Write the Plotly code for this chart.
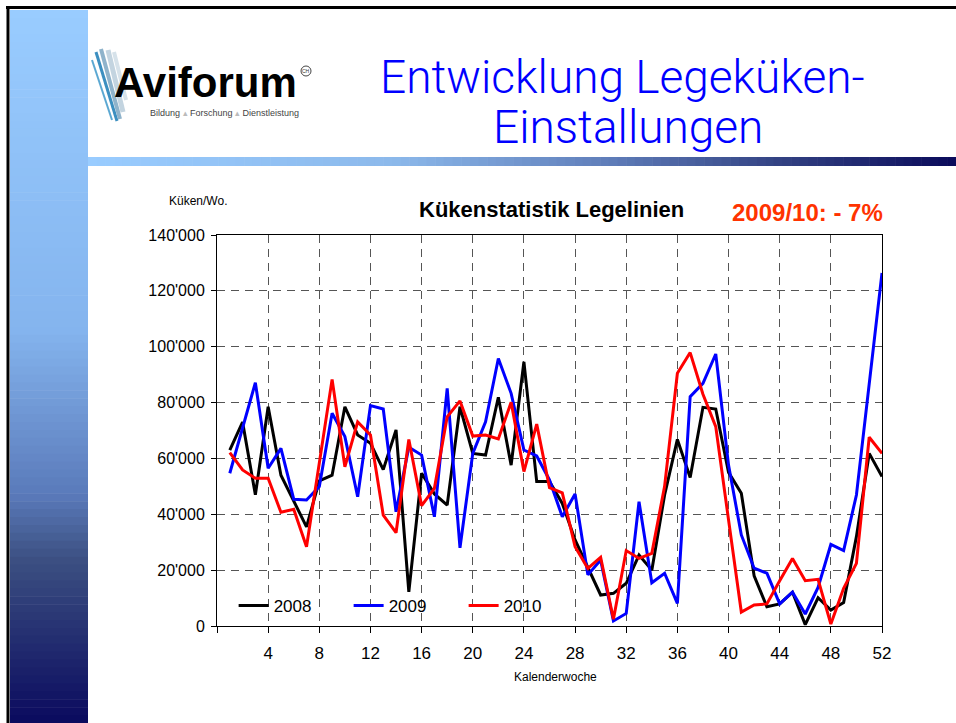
import plotly.graph_objects as go

# ---------------- data ----------------
weeks = list(range(1, 53))
y2008 = [63000, 73000, 47000, 78500, 54000, 45000, 35500, 52000, 54000, 78500,
         68400, 65400, 56000, 70200, 12200, 54700, 47300, 43300, 78500, 61800,
         61200, 81900, 57600, 94600, 51700, 51700, 43900, 30800, 21200, 11100,
         11700, 15300, 25400, 20000, 46900, 66800, 53200, 78300, 77700, 55000,
         47500, 18000, 6900, 7900, 12100, 500, 10100, 5700, 8400, 32000,
         61800, 53500]
y2009 = [54700, 71400, 87100, 56500, 63600, 45400, 45100, 49900, 76200, 67800,
         46300, 78900, 77700, 40900, 64000, 61200, 39100, 85100, 28000, 61800,
         73100, 95800, 83300, 63000, 60900, 52300, 39100, 47300, 18300, 23600,
         1800, 4500, 44500, 15500, 18900, 8100, 82100, 86900, 97400, 57600,
         32600, 20700, 18900, 7900, 12100, 4300, 13800, 29200, 27000, 46900,
         87000, 126400]
y2010 = [62100, 55900, 52900, 52900, 40700, 41800, 28400, 59000, 88300, 57000,
         73100, 68400, 39700, 33400, 66800, 43100, 49300, 74900, 80600, 68000,
         68400, 67000, 80100, 55300, 72300, 49500, 47700, 28400, 20600, 24600,
         2400, 27000, 24200, 26000, 50000, 90500, 97900, 83000, 71400, 38000,
         5000, 7500, 7900, 16200, 24200, 16200, 16700, 700, 13500, 22400,
         67600, 61800]
series_names = ["2008", "2009", "2010"]
series_colors = ["#000000", "#0000FF", "#FF0000"]

x_tickvals = list(range(0, 53, 4))
x_ticktext = [""] + [str(v) for v in range(4, 53, 4)]
y_tickvals = list(range(0, 140001, 20000))
y_ticktext = ["0", "20'000", "40'000", "60'000", "80'000", "100'000", "120'000", "140'000"]

# ---------------- layout geometry ----------------
W, H = 956, 723
ML, MR, MT, MB = 217, 74, 235, 97
PW, PH = W - ML - MR, H - MT - MB


def PX(px):
    return (px - ML) / PW


def PY(py):
    return (H - MB - py) / PH


def lerp_color(stops, t):
    for i in range(len(stops) - 1):
        t0, c0 = stops[i]
        t1, c1 = stops[i + 1]
        if t0 <= t <= t1:
            f = (t - t0) / (t1 - t0) if t1 > t0 else 0
            c = [int(round(c0[k] + (c1[k] - c0[k]) * f)) for k in range(3)]
            return "rgb(%d,%d,%d)" % tuple(c)
    c = stops[-1][1]
    return "rgb(%d,%d,%d)" % tuple(c)


fig = go.Figure()
for name, ys, col in zip(series_names, [y2008, y2009, y2010], series_colors):
    fig.add_trace(go.Scatter(x=weeks, y=ys, mode="lines", name=name,
                             line=dict(color=col, width=3)))

shapes = []
# left vertical gradient bar
vstops = [(0.0, (153, 204, 255)), (0.45, (132, 180, 238)), (0.68, (90, 122, 186)),
          (0.77, (60, 80, 130)), (1.0, (10, 10, 94))]
y0, y1 = 10, 723
n = 90
for i in range(n):
    a = y0 + (y1 - y0) * i / n
    b = y0 + (y1 - y0) * (i + 1) / n
    shapes.append(dict(type="rect", xref="paper", yref="paper", layer="below",
                       x0=PX(10), x1=PX(88), y0=PY(a), y1=PY(b + 0.6),
                       fillcolor=lerp_color(vstops, (i + 0.5) / n), line=dict(width=0)))
# horizontal gradient bar
hstops = [(0.0, (153, 204, 255)), (0.35, (140, 185, 235)), (0.6, (95, 125, 185)),
          (0.8, (50, 65, 130)), (1.0, (10, 10, 90))]
x0, x1 = 88, 956
n = 100
for i in range(n):
    a = x0 + (x1 - x0) * i / n
    b = x0 + (x1 - x0) * (i + 1) / n
    shapes.append(dict(type="rect", xref="paper", yref="paper", layer="below",
                       x0=PX(a), x1=PX(b + 0.6), y0=PY(157), y1=PY(166),
                       fillcolor=lerp_color(hstops, (i + 0.5) / n), line=dict(width=0)))
# slide border
shapes.append(dict(type="line", xref="paper", yref="paper", x0=PX(6), x1=PX(956),
                   y0=PY(7.5), y1=PY(7.5), line=dict(color="#000000", width=3)))
shapes.append(dict(type="line", xref="paper", yref="paper", x0=PX(8), x1=PX(8),
                   y0=PY(6), y1=PY(723), line=dict(color="#000000", width=3)))
# logo feather strokes
for (ax, ay, bx, by, c, w) in [(96, 52, 117, 121, "#3C8FC0", 3), (101, 49, 120, 119, "#8FB3CB", 4),
                               (108, 50, 123, 112, "#C3D4E0", 5), (92, 60, 112, 120, "#5BA8D2", 2),
                               (114, 52, 126, 100, "#D6E2EA", 4)]:
    shapes.append(dict(type="line", xref="paper", yref="paper", x0=PX(ax), x1=PX(bx),
                       y0=PY(ay), y1=PY(by), line=dict(color=c, width=w)))
# circled CH mark
shapes.append(dict(type="circle", xref="paper", yref="paper", x0=PX(301), x1=PX(311),
                   y0=PY(66), y1=PY(76), line=dict(color="#444444", width=1)))

ann = []
ann.append(dict(text="Entwicklung Legeküken-", xref="paper", yref="paper",
                x=PX(622), y=PY(77), xanchor="center", yanchor="middle", showarrow=False,
                font=dict(family="Roboto", size=46, color="#0000FF", weight=300)))
ann.append(dict(text="Einstallungen", xref="paper", yref="paper",
                x=PX(628), y=PY(127), xanchor="center", yanchor="middle", showarrow=False,
                font=dict(family="Roboto", size=46, color="#0000FF", weight=300)))
ann.append(dict(text="<b>Aviforum</b>", xref="paper", yref="paper", x=PX(112), y=PY(82),
                xanchor="left", yanchor="middle", showarrow=False,
                font=dict(family="Liberation Sans", size=42, color="#000000")))
ann.append(dict(text="CH", xref="paper", yref="paper", x=PX(306), y=PY(71),
                xanchor="center", yanchor="middle", showarrow=False,
                font=dict(family="Liberation Sans", size=5, color="#333333")))
ann.append(dict(text="Bildung <span style='color:#bbbbbb'>▴</span> Forschung <span style='color:#bbbbbb'>▴</span> Dienstleistung",
                xref="paper", yref="paper", x=PX(224), y=PY(113),
                xanchor="center", yanchor="middle", showarrow=False,
                font=dict(family="Liberation Sans", size=9, color="#444444")))
ann.append(dict(text="<b>Kükenstatistik Legelinien</b>", xref="paper", yref="paper",
                x=PX(551), y=PY(209), xanchor="center", yanchor="middle", showarrow=False,
                font=dict(family="Liberation Sans", size=22, color="#000000")))
ann.append(dict(text="<b>2009/10: - 7%</b>", xref="paper", yref="paper",
                x=PX(807), y=PY(213), xanchor="center", yanchor="middle", showarrow=False,
                font=dict(family="Liberation Sans", size=24, color="#FF3300")))
ann.append(dict(text="Küken/Wo.", xref="paper", yref="paper",
                x=PX(198), y=PY(201), xanchor="center", yanchor="middle", showarrow=False,
                font=dict(family="Liberation Sans", size=12, color="#000000")))
ann.append(dict(text="Kalenderwoche", xref="paper", yref="paper",
                x=PX(555), y=PY(677), xanchor="center", yanchor="middle", showarrow=False,
                font=dict(family="Liberation Sans", size=12, color="#000000")))

fig.update_layout(
    width=W, height=H, autosize=False,
    margin=dict(l=ML, r=MR, t=MT, b=MB, pad=0),
    paper_bgcolor="white", plot_bgcolor="white",
    font=dict(family="Liberation Sans", color="#000000"),
    shapes=shapes, annotations=ann,
    legend=dict(orientation="h", x=0.025, y=PY(606), xanchor="left", yanchor="middle",
                bgcolor="rgba(0,0,0,0)", font=dict(size=17), entrywidth=70,
                entrywidthmode="pixels", tracegroupgap=0),
    showlegend=True,
)
fig.update_xaxes(range=[0, 52], tickvals=x_tickvals, ticktext=x_ticktext,
                 showline=True, linecolor="#000000", linewidth=1, mirror=True,
                 ticks="outside", ticklen=6, tickcolor="#000000", ticklabelstandoff=6,
                 showgrid=True, gridcolor="#555555", gridwidth=1, griddash="8px,6px",
                 tickfont=dict(size=17), zeroline=False)
fig.update_yaxes(range=[0, 140000], tickvals=y_tickvals, ticktext=y_ticktext,
                 showline=True, linecolor="#000000", linewidth=1, mirror=True,
                 ticks="outside", ticklen=5, tickcolor="#000000", ticklabelstandoff=3,
                 showgrid=True, gridcolor="#555555", gridwidth=1, griddash="8px,6px",
                 tickfont=dict(size=16), zeroline=False)

fig.write_html("out.html", config={"displayModeBar": False},
               post_script="document.body.style.margin='0';")
